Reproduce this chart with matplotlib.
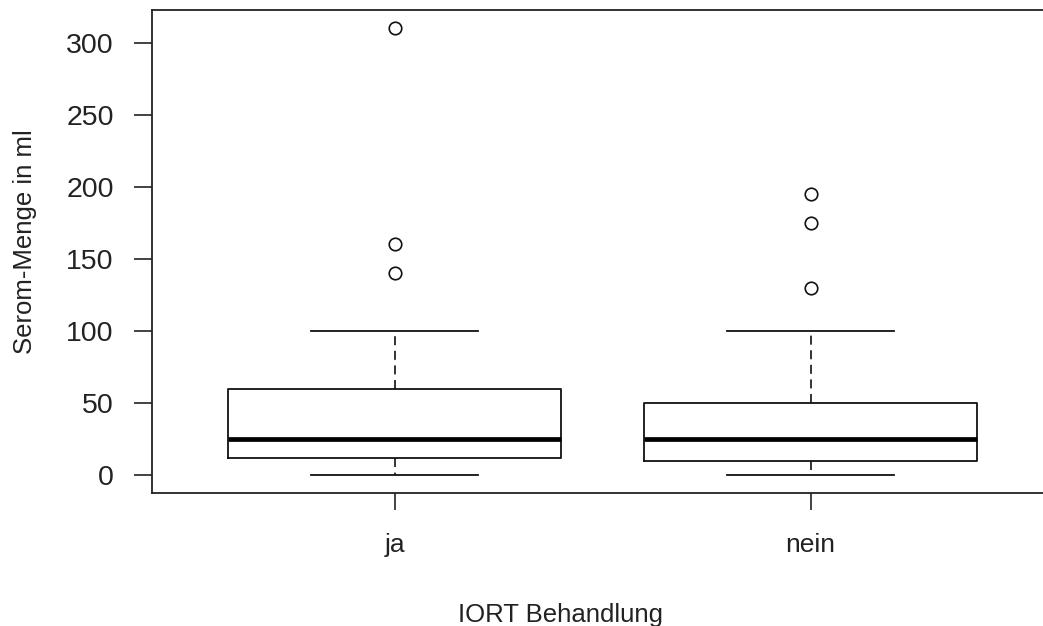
import matplotlib
matplotlib.use("Agg")
import matplotlib.pyplot as plt

plt.rcParams["font.family"] = ["Liberation Sans", "DejaVu Sans"]
plt.rcParams["lines.scale_dashes"] = False

# Summary statistics of seroma volume (ml) per IORT group
categories = ["ja", "nein"]
q1 = [12, 10]
medians = [25, 25]
q3 = [60, 50]
whisker_low = [0, 0]
whisker_high = [100, 100]
outliers = [[310, 160, 140], [195, 175, 130]]
y_ticks = [0, 50, 100, 150, 200, 250, 300]

stats = []
for i, name in enumerate(categories):
    stats.append(dict(label=name, q1=q1[i], med=medians[i], q3=q3[i],
                      whislo=whisker_low[i], whishi=whisker_high[i],
                      fliers=outliers[i]))

fig = plt.figure(figsize=(10.43, 6.26), dpi=100)
ax = fig.add_axes([0.1457, 0.2117, 0.8708, 0.7724])

ink = "#111111"
ax.bxp(stats, positions=[1, 2], widths=0.8, capwidths=0.4,
       boxprops=dict(color=ink, linewidth=1.3),
       medianprops=dict(color="black", linewidth=3.4, solid_capstyle="butt"),
       whiskerprops=dict(color=ink, linewidth=1.2, linestyle=(0, (6.5, 4.0))),
       capprops=dict(color=ink, linewidth=1.3),
       flierprops=dict(marker="o", markersize=9, markerfacecolor="none",
                       markeredgecolor=ink, markeredgewidth=1.2, linestyle="none"),
       manage_ticks=False)

ax.set_xlim(0.4166, 2.6)
ax.set_ylim(-12.8, 322.7)
ax.set_xticks([1, 2])
ax.set_xticklabels(categories)
ax.set_yticks(y_ticks)
ax.set_yticklabels([str(v) for v in y_ticks])

for side in ["left", "right", "top", "bottom"]:
    ax.spines[side].set_linewidth(1.3)
    ax.spines[side].set_color("#222222")

ax.tick_params(axis="y", direction="out", length=13, width=1.2, pad=14.5,
               labelsize=20.5, colors="#222222")
ax.tick_params(axis="x", direction="out", length=12, width=1.2, pad=16.5,
               labelsize=19, colors="#222222")

fig.text(561 / 1043, 1 - 621.7 / 626, "IORT Behandlung", ha="center",
         va="baseline", fontsize=18.5, color="#222222")
fig.text(25 / 1043, 1 - 241.5 / 626, "Serom-Menge in ml", ha="center",
         va="center", rotation=90, fontsize=18.5, color="#222222")

fig.savefig("out.png", dpi=100)
